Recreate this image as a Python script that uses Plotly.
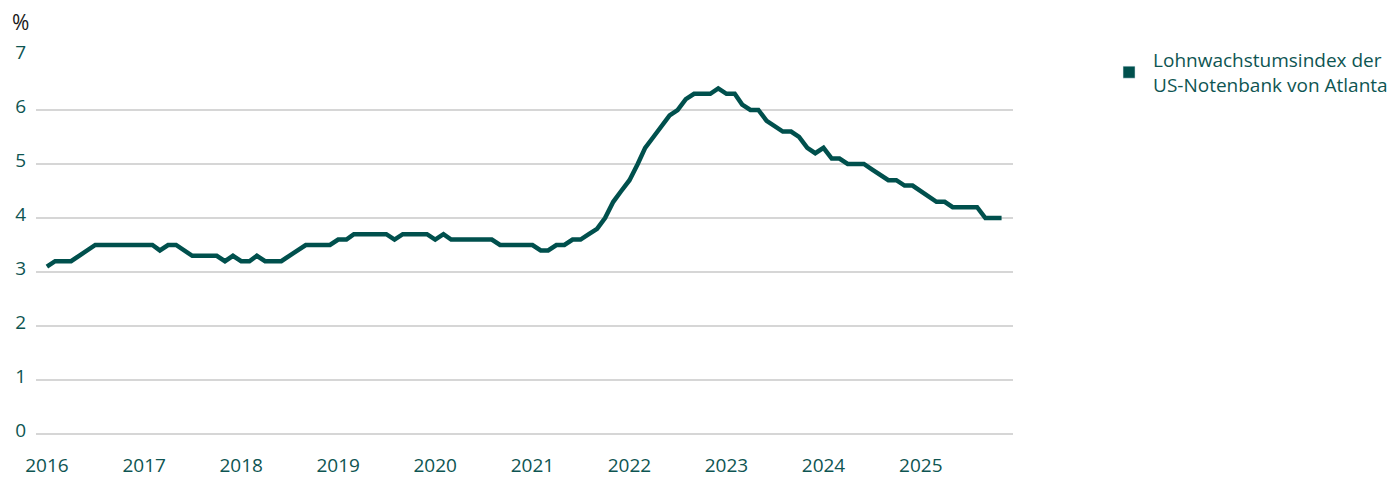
import pandas as pd
import plotly.graph_objects as go

values = [
    3.1, 3.2, 3.2, 3.2, 3.3, 3.4, 3.5, 3.5, 3.5, 3.5, 3.5, 3.5,
    3.5, 3.5, 3.4, 3.5, 3.5, 3.4, 3.3, 3.3, 3.3, 3.3, 3.2, 3.3,
    3.2, 3.2, 3.3, 3.2, 3.2, 3.2, 3.3, 3.4, 3.5, 3.5, 3.5, 3.5,
    3.6, 3.6, 3.7, 3.7, 3.7, 3.7, 3.7, 3.6, 3.7, 3.7, 3.7, 3.7,
    3.6, 3.7, 3.6, 3.6, 3.6, 3.6, 3.6, 3.6, 3.5, 3.5, 3.5, 3.5,
    3.5, 3.4, 3.4, 3.5, 3.5, 3.6, 3.6, 3.7, 3.8, 4.0, 4.3, 4.5,
    4.7, 5.0, 5.3, 5.5, 5.7, 5.9, 6.0, 6.2, 6.3, 6.3, 6.3, 6.4,
    6.3, 6.3, 6.1, 6.0, 6.0, 5.8, 5.7, 5.6, 5.6, 5.5, 5.3, 5.2,
    5.3, 5.1, 5.1, 5.0, 5.0, 5.0, 4.9, 4.8, 4.7, 4.7, 4.6, 4.6,
    4.5, 4.4, 4.3, 4.3, 4.2, 4.2, 4.2, 4.2, 4.0, 4.0, 4.0,
]
dates = pd.date_range("2016-01-01", periods=len(values), freq="MS")
years = list(range(2016, 2026))
tick_dates = [f"{y}-01-01" for y in years]
tick_text = [str(y) for y in years]
y_ticks = [0, 1, 2, 3, 4, 5, 6, 7]
series_name = "Lohnwachstumsindex der<br>US-Notenbank von Atlanta"

LINE = "#00504D"
TEXT = "#0E5552"
GRID = "#D6D6D6"
FONT = "Open Sans, Noto Sans, sans-serif"

fig = go.Figure()
fig.add_trace(go.Scatter(
    x=dates, y=values, mode="lines",
    line=dict(color=LINE, width=4.5, shape="linear"),
    showlegend=False, hoverinfo="x+y",
))
fig.add_trace(go.Bar(
    x=[None], y=[None], name=series_name,
    marker=dict(color=LINE), showlegend=True,
))

# The page body adds an 8px margin, so the figure is 8px smaller than the window.
fig.update_layout(
    width=1389, height=470,
    margin=dict(l=28, r=384, t=48, b=44, autoexpand=False),
    paper_bgcolor="white", plot_bgcolor="white",
    font=dict(family=FONT, size=19, color=TEXT),
    legend=dict(
        x=1.0942, y=1.0397, xanchor="left", yanchor="top",
        font=dict(family=FONT, size=19, color=TEXT),
        bgcolor="rgba(0,0,0,0)", itemclick=False,
        itemwidth=38, tracegroupgap=0,
    ),
    xaxis=dict(
        type="date", automargin=False,
        range=["2015-11-21", "2025-12-14"],
        tickvals=tick_dates, ticktext=tick_text,
        showgrid=False, zeroline=False, showline=False,
        ticks="", ticklabelstandoff=18,
        tickfont=dict(family=FONT, size=19, color=TEXT),
    ),
    yaxis=dict(
        range=[0, 7], tickvals=y_ticks, automargin=False,
        showgrid=True, gridcolor=GRID, gridwidth=1.5,
        zeroline=True, zerolinecolor=GRID, zerolinewidth=1.5,
        showline=False, ticks="",
        ticklabelstandoff=9, ticklabelshift=-4,
        tickfont=dict(family=FONT, size=19, color=TEXT),
    ),
    annotations=[dict(
        text="%", xref="paper", yref="paper",
        x=-0.0266, y=1.0, xanchor="left", yanchor="middle",
        yshift=34, showarrow=False,
        font=dict(family=FONT, size=21, color="#1A1A1A"),
    )],
)

fig.write_html("out.html")
